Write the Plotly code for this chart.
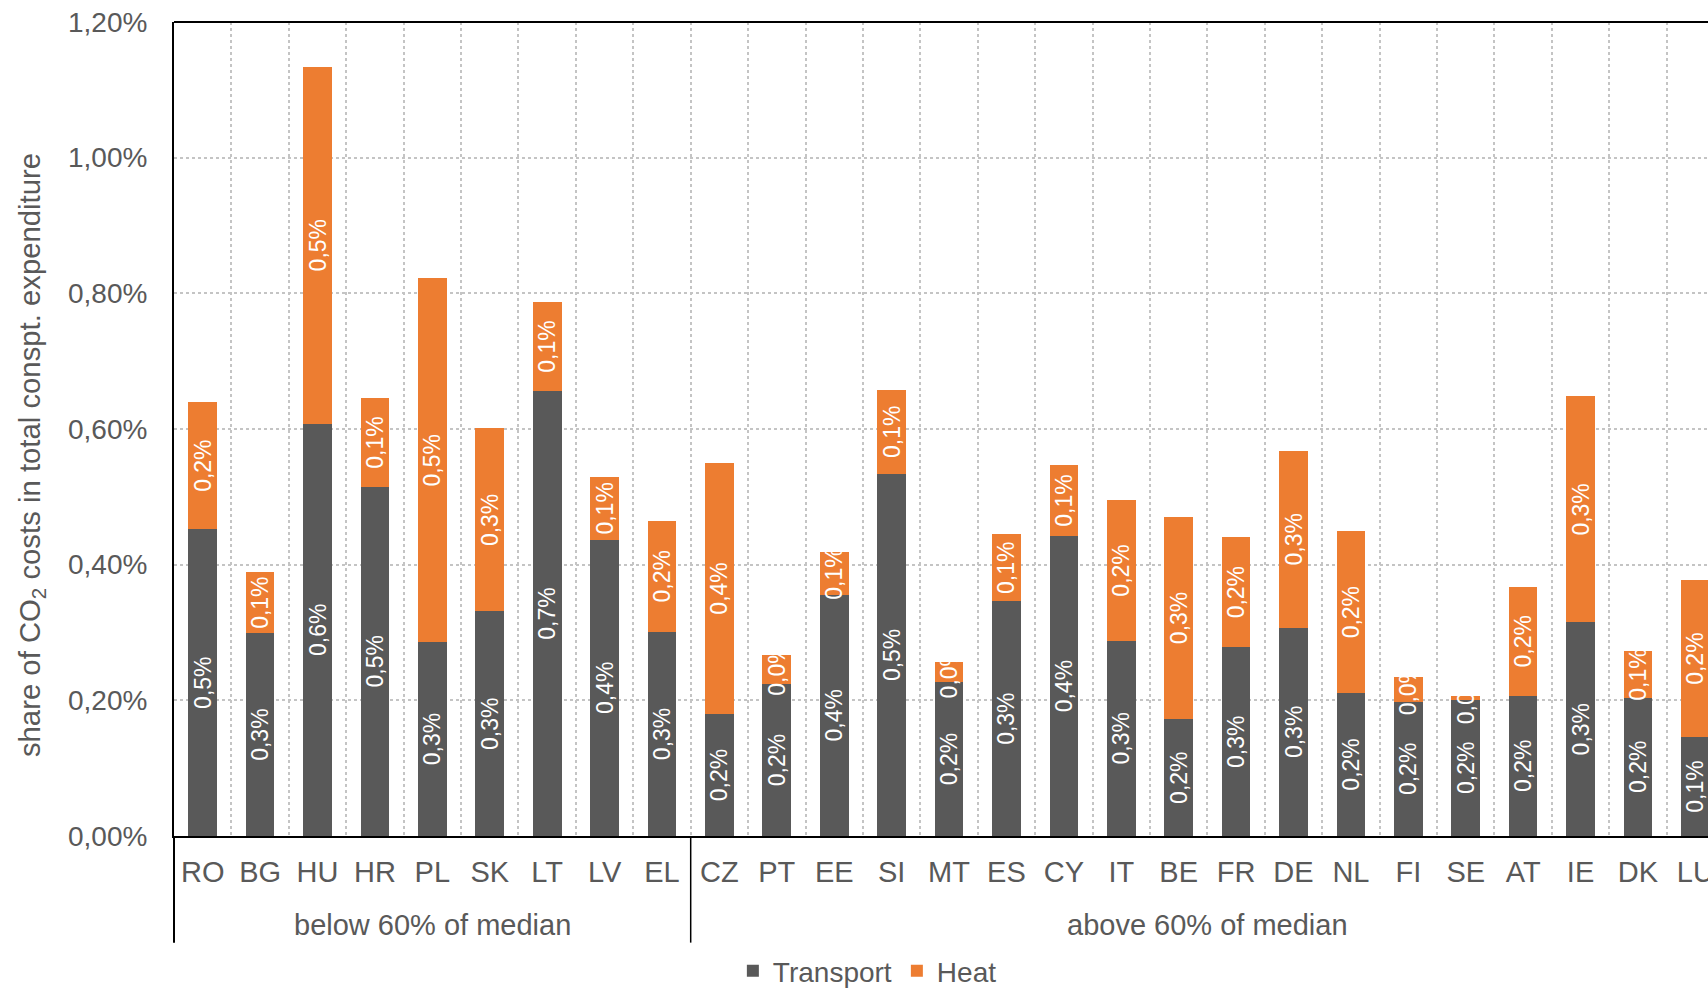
import plotly.graph_objects as go

# Share of CO2 costs in total consumption expenditure, in percent
countries = ["RO", "BG", "HU", "HR", "PL", "SK", "LT", "LV", "EL",
             "CZ", "PT", "EE", "SI", "MT", "ES", "CY", "IT", "BE", "FR",
             "DE", "NL", "FI", "SE", "AT", "IE", "DK", "LU"]
transport = [0.452, 0.299, 0.608, 0.515, 0.286, 0.331, 0.656, 0.437, 0.301,
             0.180, 0.224, 0.356, 0.534, 0.227, 0.346, 0.442, 0.288, 0.172, 0.278,
             0.307, 0.211, 0.198, 0.201, 0.207, 0.315, 0.204, 0.146]
heat = [0.188, 0.090, 0.526, 0.130, 0.536, 0.270, 0.131, 0.092, 0.164,
        0.370, 0.043, 0.062, 0.124, 0.029, 0.099, 0.105, 0.207, 0.299, 0.163,
        0.261, 0.238, 0.037, 0.005, 0.160, 0.333, 0.068, 0.231]
# income groups: (label, first index, last index)
groups = [("below 60% of median", 0, 8), ("above 60% of median", 9, 26)]
y_ticks = [0.0, 0.2, 0.4, 0.6, 0.8, 1.0, 1.2]

FONT = "Liberation Sans, Arial, sans-serif"
GREY_TEXT = "#595959"
GRID = "#c4c4c4"


def pct_label(v, decimals=1):
    return f"{v:.{decimals}f}".replace(".", ",") + "%"


fig = go.Figure()
for name, vals, color in [("Transport", transport, "#595959"),
                          ("Heat", heat, "#ED7D31")]:
    fig.add_trace(go.Bar(
        name=name,
        x=countries,
        y=vals,
        marker=dict(color=color, line=dict(width=0)),
        text=[pct_label(v) for v in vals],
        textposition="inside",
        insidetextanchor="middle",
        textangle=-90,
        constraintext="none",
        insidetextfont=dict(color="white", size=23, family=FONT),
        cliponaxis=True,
        hoverinfo="x+y+name",
    ))

# plot frame: top border and group separators below the category axis
shapes = [dict(type="line", xref="paper", yref="paper", x0=0, x1=1, y0=1, y1=1,
               line=dict(color="black", width=2))]
shapes.append(dict(type="line", xref="paper", yref="paper", x0=0, x1=0,
                   y0=0, y1=-0.131, line=dict(color="black", width=2)))
for _, start, end in groups[1:]:
    shapes.append(dict(type="line", xref="x", yref="paper",
                       x0=start - 0.5, x1=start - 0.5, y0=0, y1=-0.131,
                       line=dict(color="black", width=1.5)))

annotations = [dict(
    text="share of CO<sub>2</sub> costs in total conspt. expenditure",
    textangle=-90, xref="paper", yref="paper", x=-0.0932, y=0.468,
    xanchor="center", yanchor="middle", showarrow=False,
    font=dict(size=29.3, color=GREY_TEXT, family=FONT))]
for label, start, end in groups:
    annotations.append(dict(
        text=label, xref="x", yref="paper", x=(start + end) / 2, y=-0.109,
        xanchor="center", yanchor="middle", showarrow=False,
        font=dict(size=29, color=GREY_TEXT, family=FONT)))

fig.update_layout(
    width=1708, height=992, autosize=False,
    margin=dict(l=174, r=0, t=22, b=156, pad=0, autoexpand=False),
    barmode="stack", bargap=0.5,
    separators=",.",
    plot_bgcolor="white", paper_bgcolor="white",
    font=dict(family=FONT, color=GREY_TEXT),
    showlegend=True,
    legend=dict(orientation="h", x=0.452, xanchor="center",
                y=-0.166, yanchor="middle", font=dict(size=28, color=GREY_TEXT),
                traceorder="normal", bgcolor="rgba(0,0,0,0)"),
    shapes=shapes,
    annotations=annotations,
)
fig.update_xaxes(
    type="category", range=[-0.5, 26.22], tickson="boundaries",
    showgrid=True, gridcolor=GRID, griddash="dot", gridwidth=1.5,
    showline=True, linecolor="black", linewidth=2,
    ticks="", tickfont=dict(size=29, color=GREY_TEXT), ticklabelstandoff=9,
    automargin=False, fixedrange=True,
)
fig.update_yaxes(
    range=[0, 1.2], tickvals=y_ticks,
    ticktext=[pct_label(v, 2) for v in y_ticks],
    showgrid=True, gridcolor=GRID, griddash="dot", gridwidth=1.5,
    zeroline=False, showline=True, linecolor="black", linewidth=2,
    ticks="", tickfont=dict(size=28, color=GREY_TEXT), ticklabelstandoff=19,
    automargin=False, fixedrange=True,
)

fig.write_html("out.html")
